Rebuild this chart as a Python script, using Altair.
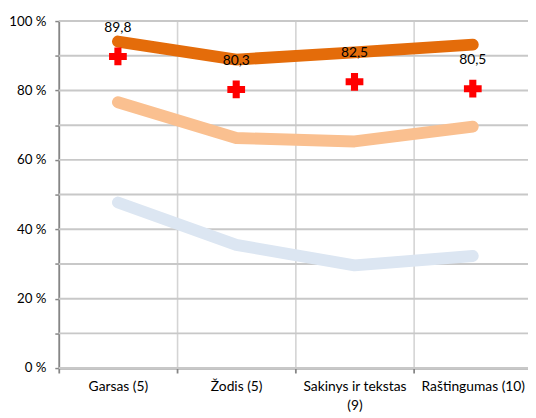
import altair as alt
import pandas as pd

categories = ["Garsas (5)", "Žodis (5)", "Sakinys ir tekstas (9)", "Raštingumas (10)"]
series_top = [94.1, 88.9, 91.0, 93.2]
series_mid = [76.6, 66.3, 65.3, 69.6]
series_low = [47.7, 35.5, 29.6, 32.3]
marker_vals = [89.8, 80.3, 82.5, 80.5]
y_ticks = [0, 10, 20, 30, 40, 50, 60, 70, 80, 90, 100]

FONT = "Lato"
GRID = "#c8c8c8"

def frame(vals):
    return pd.DataFrame({"cat": categories, "v": vals})

x_enc = alt.X(
    "cat:N",
    sort=categories,
    scale=alt.Scale(domain=categories, range=[0, 480], paddingInner=0, paddingOuter=0),
    axis=alt.Axis(
        title=None,
        tickBand="extent",
        labelAngle=0,
        labelFont=FONT,
        labelFontSize=14,
        labelColor="#000000",
        labelPadding=7,
        labelLineHeight=19,
        labelExpr="datum.label == 'Sakinys ir tekstas (9)' ? ['Sakinys ir tekstas', '(9)'] : datum.label",
        tickSize=5,
        tickColor="#868686",
        tickWidth=1.8,
        domainColor="#868686",
        domainWidth=1.8,
        grid=True,
        gridColor="#d4d4d4",
        gridWidth=1.6,
        labelLimit=200,
    ),
)

y_axis = alt.Axis(
    title=None,
    values=y_ticks,
    labelExpr="datum.value % 20 == 0 ? datum.value + ' %' : ''",
    labelFont=FONT,
    labelFontSize=13.5,
    labelColor="#000000",
    labelPadding=9,
    tickSize=4,
    tickColor="#868686",
    tickWidth=1.5,
    domainColor="#868686",
    domainWidth=1.8,
    grid=False,
)
y_scale = alt.Scale(domain=[0, 100], nice=False)
y_enc = alt.Y("v:Q", scale=y_scale, axis=y_axis)

grid_df = pd.DataFrame({"v": y_ticks, "x0": [0] * len(y_ticks), "x1": [1] * len(y_ticks)})
grid = alt.Chart(grid_df).mark_rule(
    color=GRID, strokeWidth=2, opacity=1
).encode(
    y=alt.Y("v:Q", scale=y_scale, axis=y_axis),
    x=alt.value(0),
    x2=alt.value(480),
)

def line_layer(vals, color):
    return alt.Chart(frame(vals)).mark_line(
        color=color, strokeWidth=12, strokeCap="round", strokeJoin="round"
    ).encode(x=x_enc, y=y_enc)

low = line_layer(series_low, "#DCE6F2")
mid = line_layer(series_mid, "#FAC090")
top = line_layer(series_top, "#E46C0A")

mk_df = frame(marker_vals)
crosses = alt.Chart(mk_df).mark_point(
    shape="cross", filled=True, color="#FF0000", size=324, opacity=1
).encode(x=x_enc, y=y_enc)

labels = alt.Chart(mk_df).transform_calculate(
    lbl="replace(format(datum.v, '.1f'), '.', ',')"
).mark_text(
    font=FONT, fontSize=14, color="#000000", dy=-29, baseline="middle"
).encode(x=x_enc, y=y_enc, text="lbl:N")

chart = alt.layer(grid, low, mid, top, crosses, labels).properties(
    width=476,
    height=352,
    autosize=alt.AutoSizeParams(type="none"),
    padding={"left": 51.5, "top": 10.3, "right": 0, "bottom": 47.7},
).configure_view(strokeWidth=0)

chart.save("out.html", embed_options={"renderer": "svg", "actions": False})
